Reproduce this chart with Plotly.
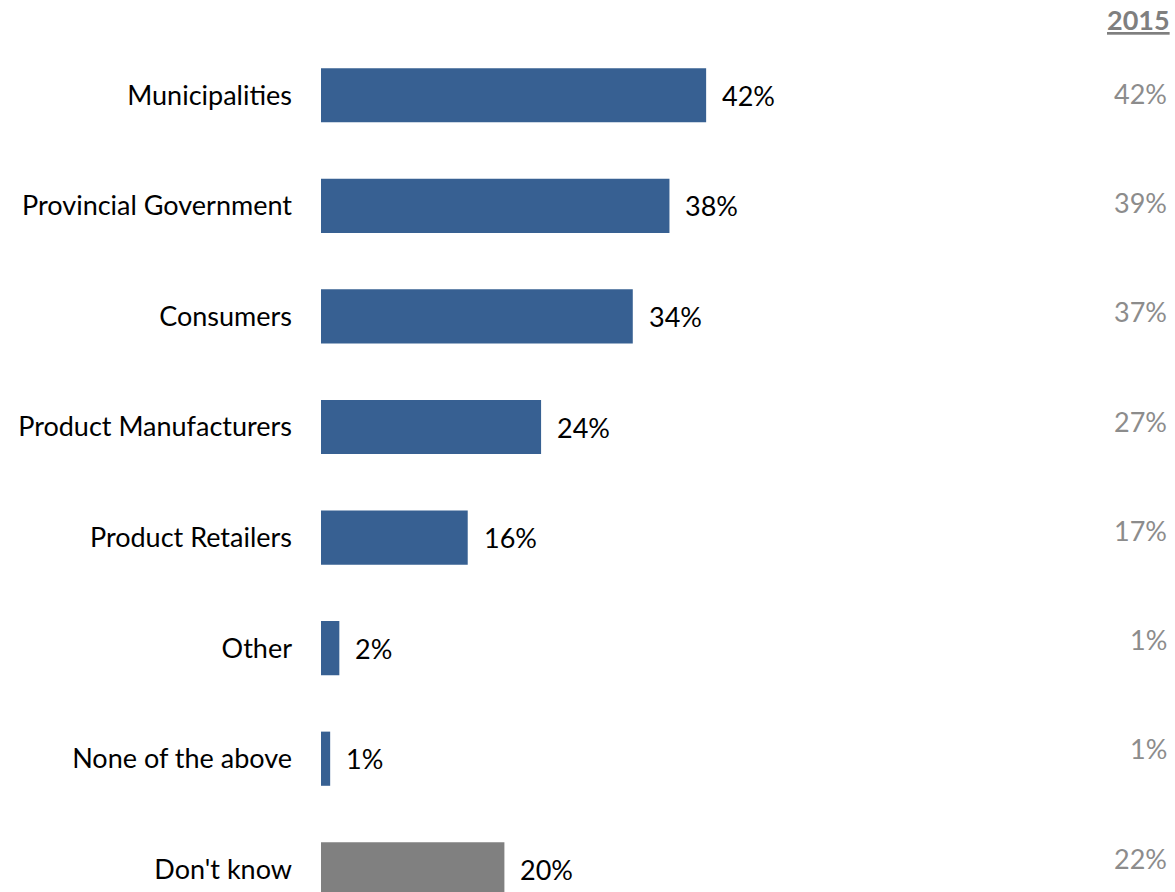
import plotly.graph_objects as go

# Survey responses: who is responsible (current year vs. 2015)
categories = [
    "Municipalities",
    "Provincial Government",
    "Consumers",
    "Product Manufacturers",
    "Product Retailers",
    "Other",
    "None of the above",
    "Don't know",
]
current_pct = [42, 38, 34, 24, 16, 2, 1, 20]
pct_2015 = [42, 39, 37, 27, 17, 1, 1, 22]
year_header = "2015"

BLUE = "#376092"
GREY = "#808080"
FONT = "Lato"
SIZE = 27

positions = list(range(len(categories)))
bar_colors = [GREY if c == "Don't know" else BLUE for c in categories]

fig = go.Figure()
fig.add_trace(
    go.Bar(
        x=current_pct,
        y=positions,
        orientation="h",
        marker=dict(color=bar_colors, line=dict(width=0)),
        width=0.49,
        hoverinfo="skip",
    )
)

annotations = []
# value labels next to each bar
for pos, val in zip(positions, current_pct):
    annotations.append(
        dict(
            x=val, y=pos, xref="x", yref="y",
            text=f"{val}%", showarrow=False,
            xanchor="left", yanchor="middle", xshift=14,
            font=dict(family=FONT, size=SIZE, color="#000000"),
        )
    )

# 2015 comparison column on the right
for pos, val in zip(positions, pct_2015):
    annotations.append(
        dict(
            x=1, y=pos, xref="paper", yref="y",
            text=f"{val}%", showarrow=False,
            xanchor="right", yanchor="middle", xshift=-6, yshift=2 + pos * 1.3,
            font=dict(family=FONT, size=SIZE, color="#8c8c8c"),
        )
    )
annotations.append(
    dict(
        x=1, y=1, xref="paper", yref="paper",
        text=f"<b>{year_header}</b>", showarrow=False,
        xanchor="right", yanchor="middle", xshift=-3, yshift=21,
        font=dict(family=FONT, size=SIZE, color="#7f7f7f", lineposition="under"),
    )
)

fig.update_layout(
    width=1175,
    height=892,
    margin=dict(l=321, r=0, t=40, b=0, pad=0),
    paper_bgcolor="white",
    plot_bgcolor="white",
    showlegend=False,
    annotations=annotations,
    xaxis=dict(
        range=[0, 854 / 9.17],
        visible=False,
        fixedrange=True,
    ),
    yaxis=dict(
        range=[-0.5 + 852 / 110.57, -0.5],
        tickvals=positions,
        ticktext=categories,
        showline=False,
        showgrid=False,
        zeroline=False,
        ticks="",
        ticklabelstandoff=28,
        tickfont=dict(family=FONT, size=SIZE, color="#000000"),
        fixedrange=True,
    ),
)

fig.write_html("out.html")
